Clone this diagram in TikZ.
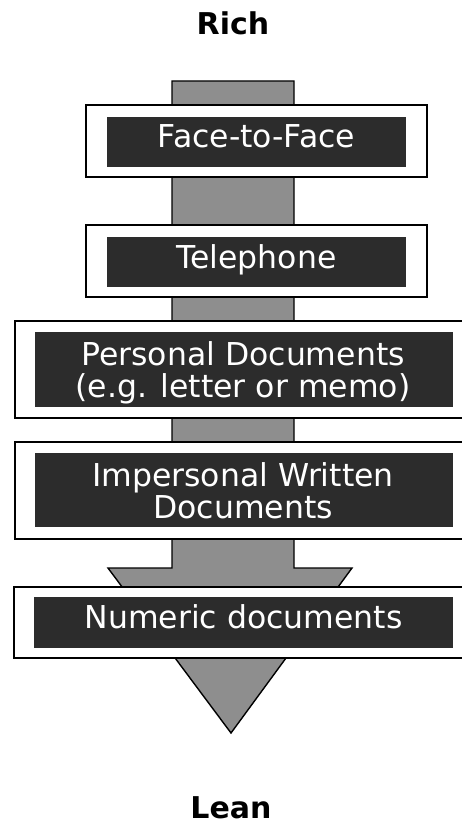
\documentclass[tikz,border=0pt]{standalone}
\usepackage{fontspec}
\setmainfont{DejaVu Sans}
\definecolor{shaftgray}{HTML}{8E8E8E}
\definecolor{labeldark}{HTML}{2C2C2C}
\tikzset{
  framebox/.style={draw=black, line width=2.4pt, fill=white},
  labelbox/.style={fill=labeldark, draw=none},
  labeltext/.style={text=white, anchor=base, inner sep=0pt, font=\fontsize{31.5}{32}\selectfont},
  endtext/.style={anchor=base, inner sep=0pt, font=\bfseries\fontsize{30}{32}\selectfont},
  arrowbody/.style={fill=shaftgray, draw=black, line width=1.4pt, line join=miter}
}
\begin{document}
\begin{tikzpicture}[x=1pt,y=-1pt]
  \useasboundingbox (0,0) rectangle (462,829);

  % big downward arrow behind the boxes
  \coordinate (s1) at (172,81);
  \coordinate (s2) at (294,81);
  \coordinate (s3) at (294,568);
  \coordinate (h1) at (352,568);
  \coordinate (tip) at (231,733);
  \coordinate (h2) at (108,568);
  \coordinate (s4) at (172,568);
  \draw[arrowbody] (s1) -- (s2) -- (s3) -- (h1) -- (tip) -- (h2) -- (s4) -- cycle;

  % end labels
  \node[endtext] (rich) at (233,35) {Rich};
  \node[endtext] (lean) at (231,818) {Lean};

  % Face-to-Face
  \draw[framebox] (86,105) rectangle (427,177);
  \fill[labelbox] (107,117) rectangle (406,167);
  \node[labeltext] (f2f) at (256.5,148) {Face-to-Face};

  % Telephone
  \draw[framebox] (86,225) rectangle (427,297);
  \fill[labelbox] (107,237) rectangle (406,287);
  \node[labeltext] (tel) at (256.5,268) {Telephone};

  % Personal documents
  \draw[framebox] (15,321) rectangle (475,418);
  \fill[labelbox] (35,332) rectangle (453,407);
  \node[labeltext] (pd1) at (243,365) {Personal Documents};
  \node[labeltext] (pd2) at (243,397) {(e.g. letter or memo)};

  % Impersonal written documents
  \draw[framebox] (15,442) rectangle (475,539);
  \fill[labelbox] (35,453) rectangle (453,527);
  \node[labeltext] (iw1) at (243,486) {Impersonal Written};
  \node[labeltext] (iw2) at (243,518) {Documents};

  % Numeric documents
  \draw[framebox] (14,587) rectangle (475,658);
  \fill[labelbox] (34,597) rectangle (453,648);
  \node[labeltext] (num) at (243.5,628) {Numeric documents};
\end{tikzpicture}
\end{document}
